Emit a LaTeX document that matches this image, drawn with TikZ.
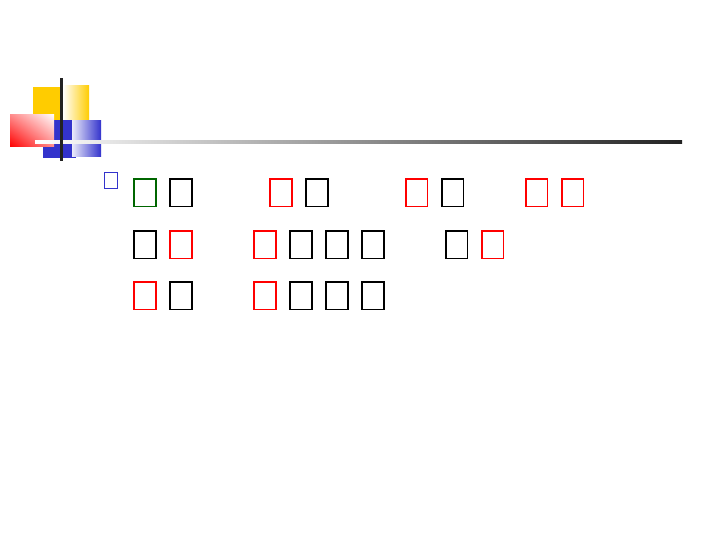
\documentclass[tikz,border=0pt]{standalone}
\usepackage{tikz}
\usetikzlibrary{shadings}
\definecolor{slideyellow}{RGB}{255,204,0}
\definecolor{slideblue}{RGB}{51,51,204}
\definecolor{slidedark}{RGB}{34,34,34}
\definecolor{slidegreen}{RGB}{0,102,0}
\tikzset{glyph/.style={line width=1.3pt}}
\begin{document}
\begin{tikzpicture}[x=0.75pt,y=-0.75pt]
            \useasboundingbox[fill=white] (0,0) rectangle (720,540);

            \fill[slideyellow] (33,86.5) rectangle (63,120);
            \shade[left color=white, right color=slideyellow] (63,85.7) rectangle (89,120);
            \fill[slideblue] (43,120) rectangle (76,157.7);
            \shade[left color=white!90!slideblue, right color=slideblue] (72,120) rectangle (101,156.7);
            \shade[lower left=red, upper right=white, upper left=red!45!white, lower right=red!45!white]
            (10,146.7) rectangle (54,114);
            \shade[left color=white, right color=slidedark] (35,140) rectangle (682,143);
            \fill[slidedark] (60,78) rectangle (63,160.7);

            \draw[color=slideblue, line width=0.8pt] (104.5,172.8) rectangle (117.2,188.8);

            \foreach \x/\y/\c in {133.3/178.3/slidegreen, 169.3/178.3/black, 269.3/178.3/red,
                305.3/178.3/black, 405/178.3/red, 441/178.3/black, 525/178.3/red, 561/178.3/red,
                133.3/230.3/black, 169.3/230.3/red, 253.3/230.3/red, 289.3/230.3/black,
                325.3/230.3/black, 361.3/230.3/black, 445/230.3/black, 481/230.3/red,
                133.3/281.3/red, 169.3/281.3/black, 253.3/281.3/red, 289.3/281.3/black,
                325.3/281.3/black, 361.3/281.3/black}
            \draw[glyph, color=\c] (\x+0.85,\y+0.85) rectangle ++(21.6,27.3);
        \end{tikzpicture}
\end{document}
